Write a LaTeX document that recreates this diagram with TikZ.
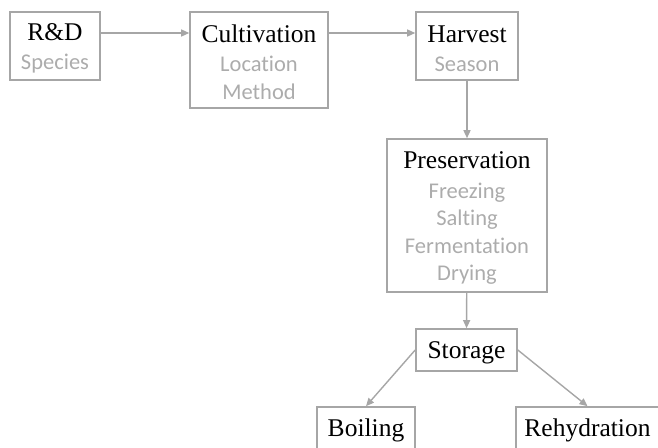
\documentclass[tikz,border=0pt]{standalone}
\usepackage{fontspec}
\setmainfont{Liberation Serif}
\newfontfamily\subfont{Carlito}[Ligatures=NoCommon]
\usetikzlibrary{arrows.meta}
\definecolor{boxgray}{RGB}{166,166,166}
\definecolor{subgray}{RGB}{172,172,172}
\newcommand{\stagetitle}[1]{{\rmfamily\fontsize{25.5}{28}\selectfont\color{black}\rule{0pt}{22pt}#1}}

\begin{document}
\begin{tikzpicture}[x=1pt, y=-1pt, >={Triangle[length=8pt,width=7pt]},
  stage/.style={draw=boxgray, line width=1.6pt, align=center, inner sep=0pt,
    font=\subfont\fontsize{22.5}{27.5}\selectfont, text=subgray},
  flow/.style={->, draw=boxgray, line width=1.4pt}]
\useasboundingbox (0,0) rectangle (658,447);
\clip (0,0) rectangle (658,447);
\node[stage, minimum width=90pt, minimum height=68pt] (rd) at (55,46) {\stagetitle{R\&D}\\[2pt]Species};
\node[stage, minimum width=138pt, minimum height=96pt] (cult) at (259,60) {\stagetitle{Cultivation}\\[2pt]Location\\Method};
\node[stage, minimum width=102pt, minimum height=68pt] (harv) at (467,46) {\stagetitle{Harvest}\\[2pt]Season};
\node[stage, minimum width=160pt, minimum height=153pt] (pres) at (467,215.5) {\stagetitle{Preservation}\\[2pt]Freezing\\Salting\\Fermentation\\Drying};
\node[stage, minimum width=101pt, minimum height=42pt] (stor) at (466.5,350) {\stagetitle{Storage}};
\node[stage, minimum width=98pt, minimum height=42pt] (boil) at (366,428) {\stagetitle{Boiling}};
\node[stage, minimum width=143pt, minimum height=42pt] (rehy) at (587.5,428) {\stagetitle{Rehydration}};
\draw[flow] ([yshift=13pt]rd.east) -- ([yshift=13pt]rd.east -| cult.west);
\draw[flow] ([yshift=13pt]harv.west -| cult.east) -- ([yshift=13pt]harv.west);
\draw[flow] (harv) -- (pres);
\draw[flow] (pres) -- (stor);
\draw[flow] (stor.west) -- (boil.north);
\draw[flow] (stor.east) -- (rehy.north);
\end{tikzpicture}
\end{document}
